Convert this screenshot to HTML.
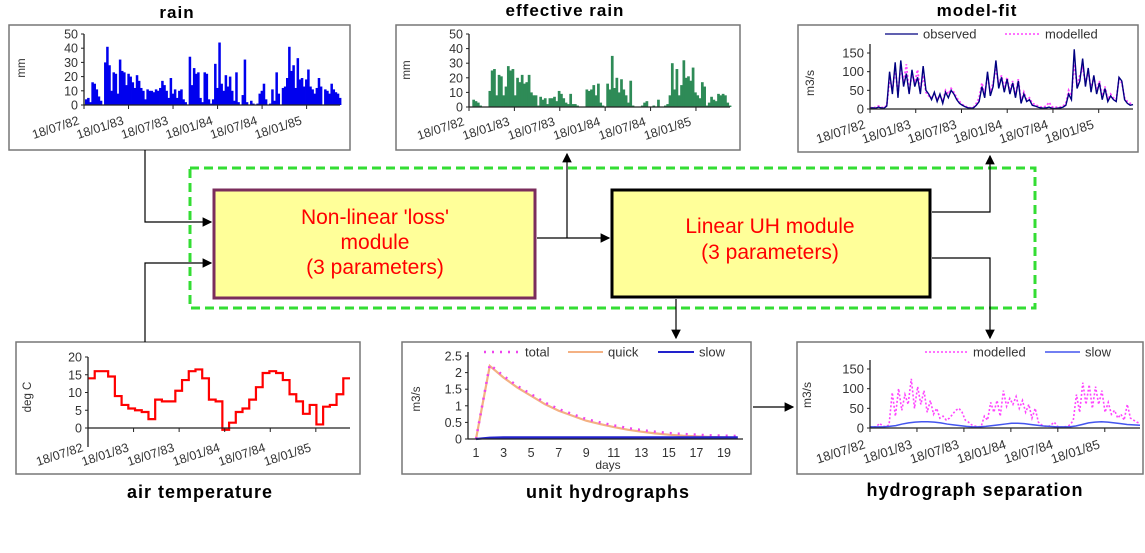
<!DOCTYPE html>
<html><head><meta charset="utf-8"><style>
html,body{margin:0;padding:0;background:#fff;}
svg{display:block;font-family:"Liberation Sans",Arial,sans-serif;}
</style></head><body>
<svg id="root" width="1145" height="553" viewBox="0 0 1145 553">
<defs><marker id="ah" markerWidth="8" markerHeight="8" refX="7" refY="4" orient="auto"><path d="M0,0 L8,4 L0,8 z" fill="#000"/></marker></defs>
<g font-weight="bold" font-size="17" letter-spacing="1">
<text x="177" y="18" text-anchor="middle">rain</text>
<text x="565" y="16" text-anchor="middle">effective rain</text>
<text x="977" y="16" text-anchor="middle">model-fit</text>
<text x="200" y="498" text-anchor="middle" font-size="18">air temperature</text>
<text x="608" y="498" text-anchor="middle" font-size="18">unit hydrographs</text>
<text x="975" y="496" text-anchor="middle" font-size="18">hydrograph separation</text>
</g>
<rect x="9" y="25" width="341" height="125" fill="#fff" stroke="#777" stroke-width="1.5"/>
<rect x="396" y="25" width="344" height="125" fill="#fff" stroke="#777" stroke-width="1.5"/>
<rect x="798" y="25" width="340" height="127" fill="#fff" stroke="#777" stroke-width="1.5"/>
<rect x="16" y="342" width="344" height="132" fill="#fff" stroke="#777" stroke-width="1.5"/>
<rect x="402" y="342" width="349" height="132" fill="#fff" stroke="#777" stroke-width="1.5"/>
<rect x="797" y="342" width="346" height="132" fill="#fff" stroke="#777" stroke-width="1.5"/>
<rect x="190" y="168" width="845" height="140" fill="none" stroke="#33dd33" stroke-width="3" stroke-dasharray="9,5"/>
<rect x="214" y="190" width="321" height="108" fill="#ffff99" stroke="#7b2d5c" stroke-width="3"/>
<text x="375" y="224" text-anchor="middle" fill="#ff0000" font-size="21">Non-linear 'loss'</text>
<text x="375" y="249" text-anchor="middle" fill="#ff0000" font-size="21">module</text>
<text x="375" y="274" text-anchor="middle" fill="#ff0000" font-size="21">(3 parameters)</text>
<rect x="612" y="190" width="318" height="107" fill="#ffff99" stroke="#000" stroke-width="3"/>
<text x="770" y="233" text-anchor="middle" fill="#ff0000" font-size="21">Linear UH module</text>
<text x="770" y="259" text-anchor="middle" fill="#ff0000" font-size="21">(3 parameters)</text>
<g stroke="#000" stroke-width="1.2" fill="none">
<path d="M145,150 V222 H211" marker-end="url(#ah)"/>
<path d="M145,342 V263 H211" marker-end="url(#ah)"/>
<path d="M537,238 H609" marker-end="url(#ah)"/>
<path d="M567,238 V154" marker-end="url(#ah)"/>
<path d="M932,212 H990 V156" marker-end="url(#ah)"/>
<path d="M932,258 H990 V338" marker-end="url(#ah)"/>
<path d="M676,299 V338" marker-end="url(#ah)"/>
<path d="M753,407 H793" marker-end="url(#ah)"/>
</g>
<g id="charts"></g>
</svg>
<script>
const dateLabels = ["18/07/82","18/01/83","18/07/83","18/01/84","18/07/84","18/01/85"];
const rainValues = [4,5,2,16,15,11,6,3,0,30,41,28,10,23,22,8,32,24,23,14,22,20,16,12,21,17,12,10,4,11,10,10,9,11,10,12,17,14,10,5,19,8,11,5,10,11,4,2,0,34,14,26,22,23,5,2,23,22,4,1,4,29,12,44,15,10,21,13,20,10,3,23,2,0,7,32,2,0,3,1,0,1,8,10,15,4,0,1,11,3,23,8,0,12,13,19,41,24,28,12,33,18,19,13,18,25,13,11,8,12,19,13,0,11,10,8,15,11,9,8,5];
const effRainValues = [0,5,4,3,1,0,0,0,11,25,26,8,22,21,8,14,28,25,26,8,20,17,22,16,17,22,10,8,8,1,7,5,6,2,6,6,7,4,11,9,6,3,2,9,2,2,1,0,0,0,12,11,12,15,8,16,3,1,0,16,12,35,13,20,10,19,12,8,3,18,1,0,0,0,1,3,4,0,0,1,0,5,0,0,1,2,8,30,12,26,8,15,32,20,21,18,27,10,8,6,17,14,1,3,7,5,4,9,8,9,8,3,1];
const observedFlow = [2,3,2,5,3,2,8,100,40,125,30,130,60,95,40,105,60,85,40,115,50,40,25,45,20,40,15,45,30,50,40,25,15,10,6,3,2,3,10,20,60,30,100,35,60,130,55,85,45,80,40,70,30,75,15,40,20,25,10,8,5,3,2,3,5,2,1,2,3,5,10,40,25,160,55,75,135,60,110,45,90,40,70,25,55,20,35,25,20,85,75,25,15,10,12];
const modelledFlow = [3,4,4,8,5,3,10,80,50,110,40,115,70,120,45,95,70,105,50,90,45,35,30,40,25,35,20,50,40,55,45,30,20,12,8,4,3,5,15,30,70,40,90,45,70,110,65,90,55,85,45,75,35,80,20,45,25,30,15,12,8,5,5,8,18,6,4,5,5,8,15,50,35,120,65,90,110,70,100,55,85,50,75,30,60,25,40,30,25,80,70,30,20,15,15];
const sepModelled = [2,3,3,12,5,3,8,90,30,100,45,85,60,125,50,105,60,95,40,70,35,50,25,30,20,25,35,45,50,40,20,15,8,5,3,4,30,20,65,40,70,30,95,55,75,60,80,50,70,40,60,25,50,15,8,5,3,8,15,4,2,3,4,8,20,85,40,115,60,110,50,105,60,95,40,65,35,45,25,35,20,60,25,20,15,12];
const sepSlow = [3,3,3,4,6,10,13,15,16,16,15,13,10,8,6,4,3,3,4,6,8,10,12,12,11,9,7,5,4,3,3,3,5,9,13,15,16,15,13,11,9,8,7];
const temperature = [14,16,16,14.5,9,6.5,5.5,5,4.5,2.5,8,7.5,7.5,10.5,13.5,16,16.5,14,8,7.5,-0.5,1.5,4.5,5.5,8,11.5,15.5,16,15.5,13.5,9.5,7.5,4,6.5,1,6,6.5,9.5,14];
const uhDays = [1,2,3,4,5,6,7,8,9,10,11,12,13,14,15,16,17,18,19,20];
const uhQuick = [0,2.2,1.85,1.55,1.3,1.05,0.85,0.7,0.55,0.45,0.36,0.28,0.22,0.17,0.13,0.1,0.08,0.06,0.05,0.04];
const uhSlow = [0,0.04,0.05,0.05,0.05,0.05,0.05,0.05,0.05,0.05,0.05,0.05,0.05,0.05,0.05,0.05,0.05,0.05,0.05,0.05];
const uhTotal = uhQuick.map((v,i)=>v+uhSlow[i]);
const dayTicks = [1,3,5,7,9,11,13,15,17,19];

const NS="http://www.w3.org/2000/svg";
const host=document.getElementById('charts');
function mk(tag,parent){const e=document.createElementNS(NS,tag);(parent||host).appendChild(e);return e;}

function axes(name,c){
  const g=mk('g');
  
  
  const ya=mk('line',g);ya.setAttribute('x1',c.x0);ya.setAttribute('x2',c.x0);ya.setAttribute('y1',c.yTop);ya.setAttribute('y2',c.yBot);ya.setAttribute('stroke','#222');ya.setAttribute('stroke-width',1.3);
  
  
  const xa=mk('line',g);xa.setAttribute('x1',c.x0);xa.setAttribute('x2',c.x1);xa.setAttribute('y1',c.y0);xa.setAttribute('y2',c.y0);xa.setAttribute('stroke','#222');xa.setAttribute('stroke-width',1.3);
  
  
  c.yTicks.forEach(v=>{
    const y=c.ys(v);
    const t=mk('text',g);t.setAttribute('x',c.x0-6);t.setAttribute('y',y+4.5);t.setAttribute('text-anchor','end');t.setAttribute('font-size',c.fs);t.setAttribute('fill','#333');t.textContent=v;
    
    
    const l=mk('line',g);l.setAttribute('x1',c.x0-3);l.setAttribute('x2',c.x0);l.setAttribute('y1',y);l.setAttribute('y2',y);l.setAttribute('stroke','#222');
  });
  const yl=mk('text',g);yl.setAttribute('transform','translate('+c.ylx+','+c.yly+') rotate(-90)');yl.setAttribute('text-anchor','middle');yl.setAttribute('font-size',c.fs-1);yl.setAttribute('fill','#333');yl.textContent=c.ylabel;
  
  
}
function dateTicks(name,c){
  const step=(c.x1-c.x0)/c.months*6;
  dateLabels.forEach((lab,i)=>{
    const x=c.x0+i*step;
    const l=mk('line');l.setAttribute('x1',x);l.setAttribute('x2',x);l.setAttribute('y1',c.y0);l.setAttribute('y2',c.y0+4);l.setAttribute('stroke','#222');
    const t=mk('text');t.setAttribute('transform','translate('+(x-4)+','+(c.ly)+') rotate(-18)');t.setAttribute('text-anchor','end');t.setAttribute('font-size',c.fs);t.setAttribute('fill','#333');t.textContent=lab;
    
    
  });
}
function linear(d0,d1,r0,r1){return v=>r0+(v-d0)/(d1-d0)*(r1-r0);}
function bars(name,vals,c,color){
  const w=(c.x1-c.x0)/vals.length;
  vals.forEach((v,i)=>{
    const r=mk('rect');const y=c.ys(v);
    r.setAttribute('x',c.x0+1+i*w);r.setAttribute('y',y);r.setAttribute('width',w+0.4);r.setAttribute('height',c.y0-y);r.setAttribute('fill',color);
    
    
  });
}
function seriesLine(name,xs,vals,ys,color,width,dash){
  const p=mk('polyline');
  p.setAttribute('points',vals.map((v,i)=>xs(i)+','+ys(v)).join(' '));
  p.setAttribute('fill','none');p.setAttribute('stroke',color);p.setAttribute('stroke-width',width);
  if(dash)p.setAttribute('stroke-dasharray',dash);
  
  
}
function legendItem(name,x1,x2,y,color,width,dash,label,fs){
  const l=mk('line');l.setAttribute('x1',x1);l.setAttribute('x2',x2);l.setAttribute('y1',y);l.setAttribute('y2',y);l.setAttribute('stroke',color);l.setAttribute('stroke-width',width);
  if(dash)l.setAttribute('stroke-dasharray',dash);
  const t=mk('text');t.setAttribute('x',x2+5);t.setAttribute('y',y+4.5);t.setAttribute('font-size',fs);t.setAttribute('fill','#333');t.textContent=label;
  
  
}

(function(){
  const c={x0:84,x1:340,y0:105,yTop:34,yBot:105,months:34.5,fs:12.5,ly:124,ylabel:'mm',ylx:25,yly:68,yTicks:[0,10,20,30,40,50]};
  c.ys=linear(0,50,105,34);
  bars('rain',rainValues,c,'#0000ee');axes('rain',c);dateTicks('rain',c);
})();
(function(){
  const c={x0:469,x1:730,y0:107,yTop:34,yBot:107,months:34.5,fs:12.5,ly:125,ylabel:'mm',ylx:410,yly:70,yTicks:[0,10,20,30,40,50]};
  c.ys=linear(0,50,107,34);
  bars('effective-rain',effRainValues,c,'#2e8b57');axes('effective-rain',c);dateTicks('effective-rain',c);
})();
(function(){
  const c={x0:870,x1:1133,y0:109,yTop:44,yBot:109,months:34.5,fs:13,ly:128,ylabel:'m3/s',ylx:814,yly:83,yTicks:[0,50,100,150]};
  c.ys=linear(0,150,109,53);
  const xs=i=>c.x0+i*(c.x1-c.x0)/(observedFlow.length-1);
  seriesLine('modelled-line',i=>c.x0+i*(c.x1-c.x0)/(modelledFlow.length-1),modelledFlow,c.ys,'#ff44ff',1.8,'2,2');
  seriesLine('observed-line',xs,observedFlow,c.ys,'#000080',1.4);
  axes('model-fit',c);dateTicks('model-fit',c);
  legendItem('legend-observed',885,918,34,'#000080',1.3,null,'observed',13);
  legendItem('legend-modelled',1005,1040,34,'#ff44ff',1.5,'2,2','modelled',13);
})();
(function(){
  const c={x0:88,x1:350,y0:428,yTop:357,yBot:447,months:34.5,fs:12.5,ly:451,ylabel:'deg C',ylx:31,yly:397,yTicks:[0,5,10,15,20]};
  c.ys=linear(0,20,428,357);
  const w=(c.x1-c.x0)/temperature.length;
  let pts=[];temperature.forEach((v,i)=>{pts.push((c.x0+i*w)+','+c.ys(v));pts.push((c.x0+(i+1)*w)+','+c.ys(v));});
  const p=mk('polyline');p.setAttribute('points',pts.join(' '));p.setAttribute('fill','none');p.setAttribute('stroke','#ff0000');p.setAttribute('stroke-width',2.2);
  
  
  axes('temperature',c);dateTicks('temperature',c);
})();
(function(){
  const x=linear(1,19,476,724);const ys=linear(0,2.5,439,356);
  const c={x0:468,x1:743,y0:439,yTop:352,yBot:439,fs:12.5,ylabel:'m3/s',ylx:420,yly:399,yTicks:[0,0.5,1,1.5,2,2.5],ys:ys};
  seriesLine('uh-quick-line',i=>x(uhDays[i]),uhQuick,ys,'#f4b183',2.2);
  seriesLine('uh-total-line',i=>x(uhDays[i]),uhTotal,ys,'#ee44ee',2.5,'2,6');
  seriesLine('uh-slow-line',i=>x(uhDays[i]),uhSlow,ys,'#2222cc',2.2);
  axes('unit-hydrograph',c);
  dayTicks.forEach(d=>{
    const t=mk('text');t.setAttribute('x',x(d));t.setAttribute('y',457);t.setAttribute('text-anchor','middle');t.setAttribute('font-size',12.5);t.setAttribute('fill','#333');t.textContent=d;
    
    
  });
  const dl=mk('text');dl.setAttribute('x',608);dl.setAttribute('y',469);dl.setAttribute('text-anchor','middle');dl.setAttribute('font-size',12);dl.setAttribute('fill','#333');dl.textContent='days';
  
  
  legendItem('legend-total',484,520,352,'#ee44ee',2.5,'2,6','total',13);
  legendItem('legend-quick',568,603,352,'#f4b183',2,null,'quick',13);
  legendItem('legend-slow',658,694,352,'#2222cc',2,null,'slow',13);
})();
(function(){
  const c={x0:870,x1:1140,y0:428,yTop:360,yBot:428,months:34.5,fs:13,ly:448,ylabel:'m3/s',ylx:811,yly:395,yTicks:[0,50,100,150]};
  c.ys=linear(0,150,428,369);
  seriesLine('separation-modelled-line',i=>c.x0+i*(c.x1-c.x0)/(sepModelled.length-1),sepModelled,c.ys,'#ff44ff',1.6,'2,2');
  seriesLine('separation-slow-line',i=>c.x0+i*(c.x1-c.x0)/(sepSlow.length-1),sepSlow,c.ys,'#4455ee',1.5);
  axes('separation',c);dateTicks('separation',c);
  legendItem('legend-sep-modelled',925,968,352,'#ff44ff',1.5,'2,2','modelled',13);
  legendItem('legend-sep-slow',1045,1080,352,'#4455ee',1.5,null,'slow',13);
})();
</script>
</body></html>
